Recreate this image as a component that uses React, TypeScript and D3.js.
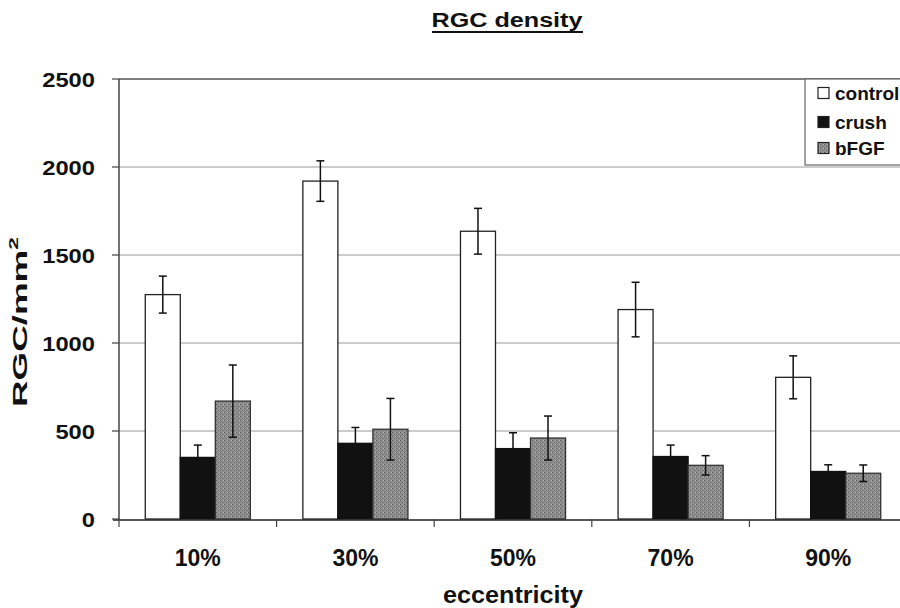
import React from "react";
import * as d3 from "d3";

const categories = ["10%", "30%", "50%", "70%", "90%"];
const seriesNames = ["control", "crush", "bFGF"];
const controlValues = [1275, 1920, 1635, 1190, 805];
const controlErrors = [105, 115, 130, 155, 122];
const crushValues = [350, 430, 400, 355, 270];
const crushErrors = [70, 90, 90, 65, 38];
const bfgfValues = [670, 510, 460, 305, 260];
const bfgfErrors = [205, 175, 125, 55, 47];
const yTicks = [0, 500, 1000, 1500, 2000, 2500];

const values = [controlValues, crushValues, bfgfValues];
const errors = [controlErrors, crushErrors, bfgfErrors];
const fills = ["#ffffff", "#111111", "url(#bfgfPat)"];
const strokes = ["#222", "#111", "#333"];

const W = 900;
const H = 608;
const left = 119;
const right = 907;
const top = 79;
const bottom = 519;
const font = "'Liberation Sans', Arial, sans-serif";

export default function App() {
  const x = d3.scaleBand<string>().domain(categories).range([left, right]).padding(0);
  const y = d3.scaleLinear().domain([0, 2500]).range([bottom, top]);
  const bw = x.bandwidth() / 4.5;
  const off = bw * 0.75;

  return (
    <svg width={W} height={H} style={{ position: "absolute", left: 0, top: 0, background: "#fff" }}>
      <defs>
        <pattern id="bfgfPat" width="4" height="4" patternUnits="userSpaceOnUse">
          <rect width="4" height="4" fill="#8e8e8e" />
          <rect x="0" y="0" width="1" height="1" fill="#5a5a5a" />
          <rect x="2" y="2" width="1" height="1" fill="#6a6a6a" />
          <rect x="3" y="0" width="1" height="1" fill="#b0b0b0" />
        </pattern>
      </defs>
      <rect x={0} y={0} width={W} height={H} fill="#fff" />

      {/* title */}
      <text x={507} y={27} fontFamily={font} fontWeight="bold" fontSize={20} fill="#111"
        textAnchor="middle" textLength={151} lengthAdjust="spacingAndGlyphs">RGC density</text>
      <line x1={432} x2={583} y1={32} y2={32} stroke="#111" strokeWidth={2} />

      {/* gridlines */}
      {yTicks.filter(t => t > 0).map(t => (
        <line key={"g" + t} x1={left} x2={right} y1={y(t)} y2={y(t)}
          stroke={t === 2500 ? "#555" : "#9a9a9a"} strokeWidth={t === 2500 ? 1.5 : 1.2} />
      ))}

      {/* bars */}
      {categories.map((c, i) => (
        <g key={c}>
          {values.map((vals, s) => (
            <rect key={s} x={(x(c) as number) + off + s * bw} y={y(vals[i])}
              width={bw} height={y(0) - y(vals[i])} fill={fills[s]} stroke={strokes[s]} strokeWidth={1.3} />
          ))}
        </g>
      ))}

      {/* error bars */}
      {categories.map((c, i) => (
        <g key={"e" + c}>
          {values.map((vals, s) => {
            const cx = (x(c) as number) + off + s * bw + bw / 2;
            const hi = y(vals[i] + errors[s][i]);
            const lo = y(vals[i] - errors[s][i]);
            return (
              <g key={s} stroke="#111" strokeWidth={1.5}>
                <line x1={cx} x2={cx} y1={hi} y2={lo} />
                <line x1={cx - 4} x2={cx + 4} y1={hi} y2={hi} />
                <line x1={cx - 4} x2={cx + 4} y1={lo} y2={lo} />
              </g>
            );
          })}
        </g>
      ))}

      {/* axes */}
      <line x1={left} x2={left} y1={top} y2={bottom + 1} stroke="#444" strokeWidth={1.5} />
      <line x1={left - 6} x2={right} y1={bottom + 1} y2={bottom + 1} stroke="#222" strokeWidth={1.5} />
      {yTicks.map(t => (
        <line key={"yt" + t} x1={left - 7} x2={left} y1={y(t)} y2={y(t)} stroke="#444" strokeWidth={1.2} />
      ))}
      {categories.map((c, i) => (
        <line key={"xt" + i} x1={x(c) as number} x2={x(c) as number} y1={bottom} y2={bottom + 8} stroke="#444" strokeWidth={1.2} />
      ))}
      <line x1={right} x2={right} y1={bottom} y2={bottom + 8} stroke="#444" strokeWidth={1.2} />

      {/* y tick labels */}
      {yTicks.map(t => (
        <g key={"yl" + t} transform={`translate(95,${y(t) + 7.5}) scale(1.13,1)`}>
          <text x={0} y={0} fontFamily={font} fontWeight="bold" fontSize={21} fill="#111" textAnchor="end">{t}</text>
        </g>
      ))}

      {/* x tick labels */}
      {categories.map(c => (
        <text key={"xl" + c} x={(x(c) as number) + x.bandwidth() / 2} y={566} fontFamily={font}
          fontWeight="bold" fontSize={23} fill="#111" textAnchor="middle">{c}</text>
      ))}

      {/* axis titles */}
      <text x={513} y={603} fontFamily={font} fontWeight="bold" fontSize={24} fill="#111"
        textAnchor="middle" textLength={140} lengthAdjust="spacingAndGlyphs">eccentricity</text>
      <g transform="translate(27,322) rotate(-90)">
        <text x={0} y={0} fontFamily={font} fontWeight="bold" fontSize={21} fill="#111"
          textAnchor="middle" textLength={170} lengthAdjust="spacingAndGlyphs">
          RGC/mm<tspan fontSize={13} dy={-9}>2</tspan>
        </text>
      </g>

      {/* legend */}
      <rect x={805} y={top} width={120} height={86} fill="#fff" stroke="#666" strokeWidth={1.2} />
      {seriesNames.map((n, s) => {
        const cy = [93, 122, 148][s];
        return (
          <g key={n}>
            <rect x={818} y={cy - 5.5} width={11} height={11} fill={fills[s]} stroke="#222" strokeWidth={1.2} />
            <text x={835} y={cy + 6.5} fontFamily={font} fontWeight="bold" fontSize={19} fill="#111">{n}</text>
          </g>
        );
      })}
    </svg>
  );
}
